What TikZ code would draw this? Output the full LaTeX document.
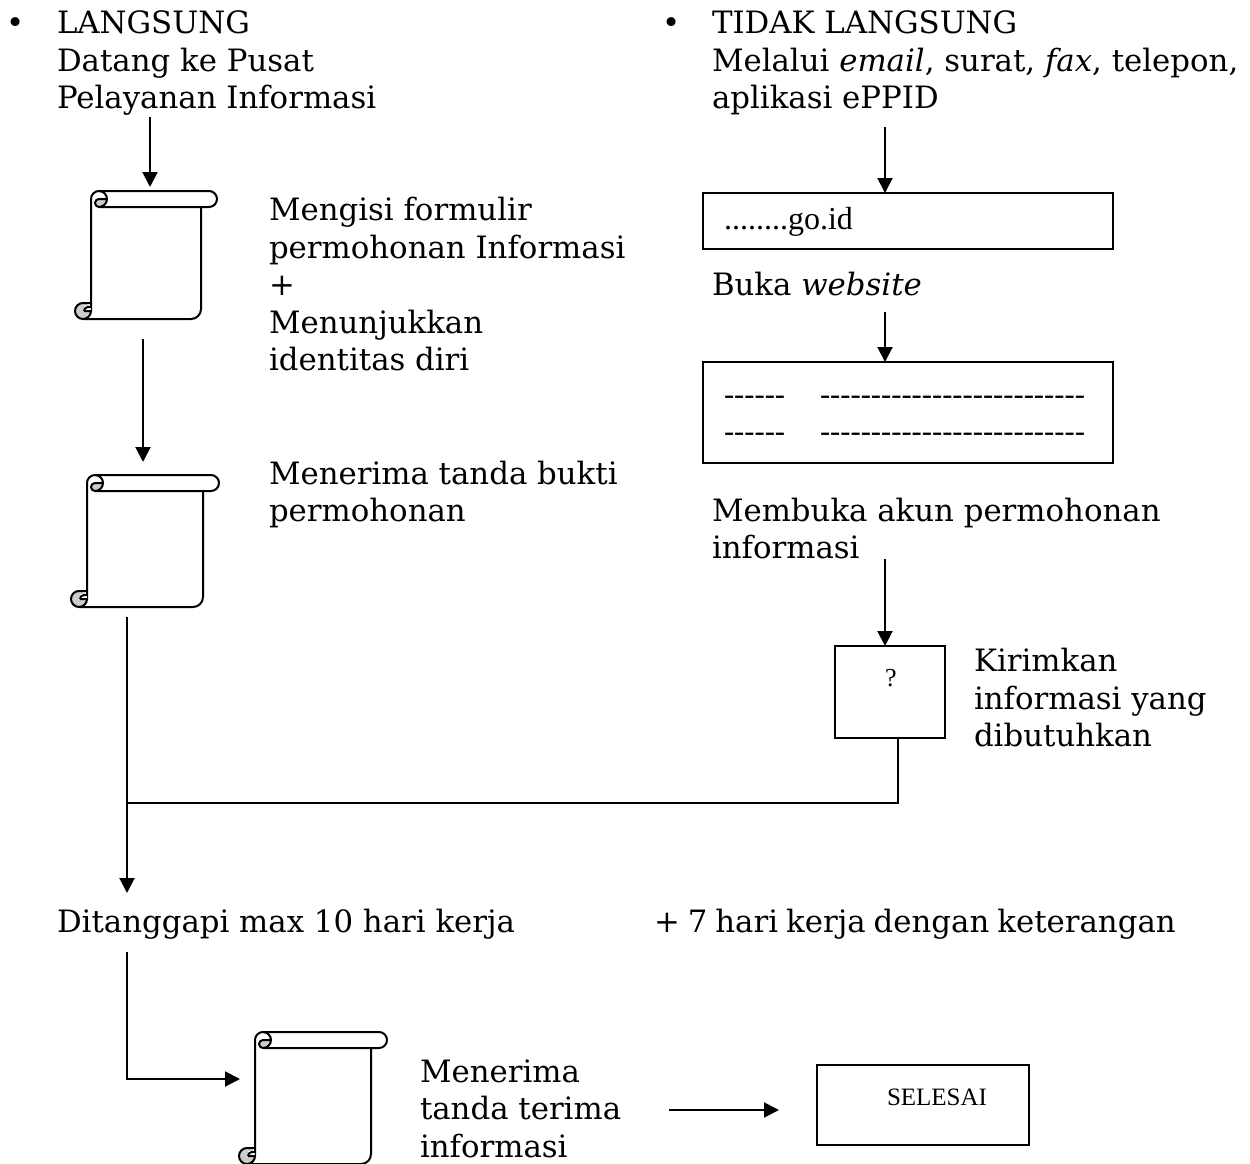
\documentclass[tikz,border=0pt]{standalone}
\usepackage{fontspec}
\setmainfont{DejaVu Serif}
\newfontfamily\timesf{Liberation Serif}
\usetikzlibrary{arrows.meta}
\tikzset{
 x=1pt,y=-1pt,
 conn/.style={line width=2pt},
 arr/.style={conn,-{Triangle[length=15pt,width=15pt]}},
 txt/.style={anchor=base west,inner sep=0pt,outer sep=0pt,font=\fontsize{30.8}{37}\selectfont},
 ttxt/.style={inner sep=0pt,outer sep=0pt,font=\timesf\fontsize{26}{30}\selectfont},
 dashtxt/.style={ttxt,anchor=base west,font=\timesf\fontsize{30.6}{31}\selectfont},
 boxn/.style={draw,line width=2pt,rectangle,inner sep=0pt,outer sep=0pt},
 scrollline/.style={line width=2pt,line join=round},
 curlfill/.style={fill=black!20}
}
% name, left, right, top, bottom  (y runs downward, so arc angles run clockwise on the page)
\newcommand{\myscroll}[5]{%
 \begin{scope}[scrollline]
 % top curl
 \fill[curlfill] (#2+8,#4+8) -- (#2+16,#4+8) arc[start angle=0,end angle=90,radius=8] arc[start angle=90,end angle=270,radius=4] -- cycle;
 \draw (#2,#5-8) -- (#2,#4+8) arc[start angle=180,end angle=270,radius=8] -- (#3+8,#4) arc[start angle=270,end angle=450,radius=8] -- (#2+8,#4+16);
 \draw (#2+8,#4) arc[start angle=270,end angle=450,radius=8] arc[start angle=90,end angle=270,radius=4] -- (#2+15.5,#4+8);
 % body
 \draw (#3,#4+16) -- (#3,#5-10) arc[start angle=0,end angle=90,radius=10] -- (#2-8,#5);
 % bottom curl
 \fill[curlfill] (#2-8,#5-8) circle[radius=8];
 \fill[white] (#2-7,#5-8) rectangle (#2,#5-13);
 \draw (#2-8,#5) arc[start angle=90,end angle=270,radius=8] -- (#2,#5-16);
 \draw (#2-8,#5) arc[start angle=90,end angle=0,radius=8] -- (#2-7,#5-8);
 \draw (#2-7,#5-8) arc[start angle=180,end angle=270,radius=4] -- (#2,#5-12);
 \node[inner sep=0pt,outer sep=0pt,minimum width=#3+16-#2,minimum height=#5-#4,anchor=north west] (#1) at (#2,#4) {};
 \end{scope}}
\begin{document}
\begin{tikzpicture}
\useasboundingbox (0,0) rectangle (1250,1164);
\fill[white] (0,0) rectangle (1250,1164);
% left text
\node[txt] (b1) at (6,34) {\textbullet};
\node[txt] (t1) at (57,34) {LANGSUNG};
\node[txt] (t2) at (57,71) {Datang ke Pusat};
\node[txt] (t3) at (57,108) {Pelayanan Informasi};
\node[txt] (b2) at (662,34) {\textbullet};
\node[txt] (t4) at (712,34) {TIDAK LANGSUNG};
\node[txt] (t5) at (712,71) {Melalui \textit{email}, surat, \textit{fax}, telepon,};
\node[txt] (t6) at (712,108) {aplikasi ePPID};
\node[txt] (m1) at (269,220) {Mengisi formulir};
\node[txt] (m2) at (269,258) {permohonan Informasi};
\node[txt] (m3) at (269,295) {+};
\node[txt] (m4) at (269,333) {Menunjukkan};
\node[txt] (m5) at (269,370) {identitas diri};
\node[txt] (m6) at (269,484) {Menerima tanda bukti};
\node[txt] (m7) at (269,521) {permohonan};
\node[txt] (w1) at (712,295) {Buka \textit{website}};
\node[txt] (w2) at (712,521) {Membuka akun permohonan};
\node[txt] (w3) at (712,558) {informasi};
\node[txt] (k1) at (974,671) {Kirimkan};
\node[txt] (k2) at (974,709) {informasi yang};
\node[txt] (k3) at (974,746) {dibutuhkan};
\node[txt] (d1) at (57,932) {Ditanggapi max 10 hari kerja};
\node[txt] (d2) at (654,932) {\spaceskip=8pt + 7 hari kerja dengan keterangan};
\node[txt] (e1) at (420,1082) {Menerima};
\node[txt] (e2) at (420,1119) {tanda terima};
\node[txt] (e3) at (420,1157) {informasi};
% boxes
\node[boxn,minimum width=410pt,minimum height=56pt,anchor=north west] (bx1) at (703,193) {};
\node[dashtxt,font=\timesf\fontsize{32}{32}\selectfont] (bx1t) at (724,229) {........go.id};
\node[boxn,minimum width=410pt,minimum height=101pt,anchor=north west] (bx2) at (703,362) {};
\node[dashtxt] (r1a) at (724,404) {-{}-{}-{}-{}-{}-};
\node[dashtxt] (r1b) at (820,404) {-{}-{}-{}-{}-{}-{}-{}-{}-{}-{}-{}-{}-{}-{}-{}-{}-{}-{}-{}-{}-{}-{}-{}-{}-{}-};
\node[dashtxt] (r2a) at (724,441) {-{}-{}-{}-{}-{}-};
\node[dashtxt] (r2b) at (820,441) {-{}-{}-{}-{}-{}-{}-{}-{}-{}-{}-{}-{}-{}-{}-{}-{}-{}-{}-{}-{}-{}-{}-{}-{}-{}-};
\node[boxn,minimum width=110pt,minimum height=92pt,anchor=north west] (q) at (835,646) {};
\node[ttxt,anchor=base] (qt) at (891,686) {?};
\node[boxn,minimum width=212pt,minimum height=80pt,anchor=north west] (sel) at (817,1065) {};
\node[ttxt,anchor=base,font=\timesf\fontsize{25}{30}\selectfont] (selt) at (937,1105) {SELESAI};
% scrolls
\myscroll{s1}{91}{201}{191}{319}
\myscroll{s2}{87}{203}{475}{607}
\myscroll{s3}{255}{371}{1032}{1164}
% coordinates
\coordinate (a1) at (150,117);
\coordinate (a2) at (143,339);
\coordinate (a2e) at (143,462);
\coordinate (a3) at (127,617);
\coordinate (a3e) at (127,893);
\coordinate (j) at (127,803);
\coordinate (a5) at (127,952);
\coordinate (a5b) at (127,1079);
\coordinate (a6) at (669,1110);
\coordinate (a6e) at (779,1110);
\coordinate (a7) at (885,127);
\coordinate (a8) at (885,312);
\coordinate (a9) at (885,559);
\coordinate (qx) at (898,738);
% connectors
\draw[arr] (a1) -- (150,187);
\draw[arr] (a2) -- (a2e);
\draw[arr] (a3) -- (a3e);
\draw[conn] (qx) -- (898,803) -- (j);
\draw[arr] (a5) -- (a5b) -- (240,1079);
\draw[arr] (a6) -- (a6e);
\draw[arr] (a7) -- (a7 |- bx1.north);
\draw[arr] (a8) -- (a8 |- bx2.north);
\draw[arr] (a9) -- (a9 |- q.north);
\end{tikzpicture}
\end{document}
